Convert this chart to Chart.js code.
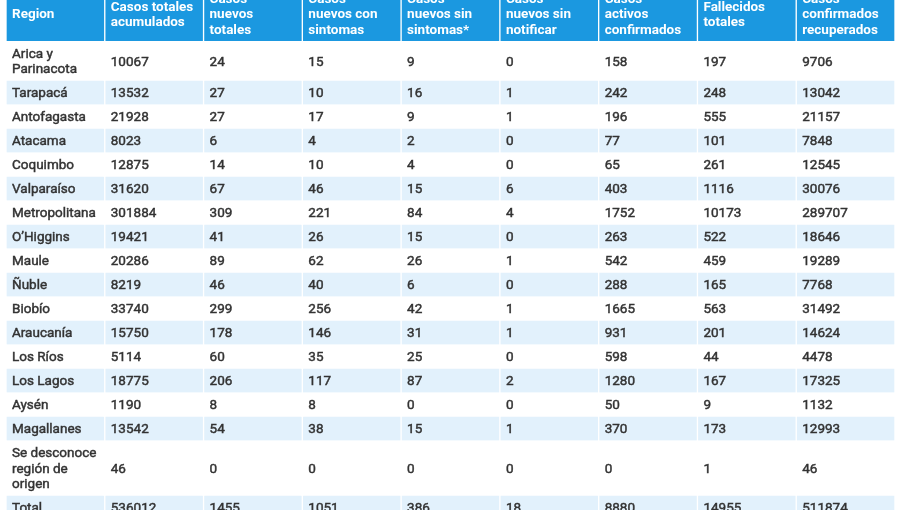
<!DOCTYPE html>
<html>
<head>
<meta charset="utf-8">
<script src="https://cdn.jsdelivr.net/npm/chart.js@4.4.1/dist/chart.umd.min.js"></script>
<style>
  html, body { margin: 0; padding: 0; background: #ffffff; }
  #wrap { width: 900px; height: 510px; }
</style>
</head>
<body>
<div id="wrap"><canvas id="tabla" width="900" height="510"></canvas></div>
<script>
// column headers (one entry per line of text)
const headers = [
    ['Region'],
    ['Casos totales', 'acumulados'],
    ['Casos', 'nuevos', 'totales'],
    ['Casos', 'nuevos con', 'sintomas'],
    ['Casos', 'nuevos sin', 'sintomas*'],
    ['Casos', 'nuevos sin', 'notificar'],
    ['Casos', 'activos', 'confirmados'],
    ['Fallecidos', 'totales'],
    ['Casos', 'confirmados', 'recuperados']
];

const regiones = [
    ['Arica y', 'Parinacota'], ['Tarapacá'], ['Antofagasta'], ['Atacama'], ['Coquimbo'],
    ['Valparaíso'], ['Metropolitana'], ['O’Higgins'], ['Maule'], ['Ñuble'], ['Biobío'],
    ['Araucanía'], ['Los Ríos'], ['Los Lagos'], ['Aysén'], ['Magallanes'],
    ['Se desconoce', 'región de', 'origen'], ['Total']
];

const casosTotales   = [10067, 13532, 21928, 8023, 12875, 31620, 301884, 19421, 20286, 8219, 33740, 15750, 5114, 18775, 1190, 13542, 46, 536012];
const nuevosTotales  = [24, 27, 27, 6, 14, 67, 309, 41, 89, 46, 299, 178, 60, 206, 8, 54, 0, 1455];
const nuevosCon      = [15, 10, 17, 4, 10, 46, 221, 26, 62, 40, 256, 146, 35, 117, 8, 38, 0, 1051];
const nuevosSin      = [9, 16, 9, 2, 4, 15, 84, 15, 26, 6, 42, 31, 25, 87, 0, 15, 0, 386];
const sinNotificar   = [0, 1, 1, 0, 0, 6, 4, 0, 1, 0, 1, 1, 0, 2, 0, 1, 0, 18];
const activos        = [158, 242, 196, 77, 65, 403, 1752, 263, 542, 288, 1665, 931, 598, 1280, 50, 370, 0, 8880];
const fallecidos     = [197, 248, 555, 101, 261, 1116, 10173, 522, 459, 165, 563, 201, 44, 167, 9, 173, 1, 14955];
const recuperados    = [9706, 13042, 21157, 7848, 12545, 30076, 289707, 18646, 19289, 7768, 31492, 14624, 4478, 17325, 1132, 12993, 46, 511874];

const columnas = [casosTotales, nuevosTotales, nuevosCon, nuevosSin, sinNotificar, activos, fallecidos, recuperados];

// row height grows with the number of text lines
function altoFila(lineas) {
    return 24 + 15.5 * (lineas - 1);
}

const filas = [];
filas.push({ textos: headers, alto: altoFila(3), fondo: '#1b98e0', borde: 'rgba(255,255,255,0.5)', color: '#ffffff', peso: 'bold', trazo: 0 });
regiones.forEach(function(reg, i) {
    const textos = [reg];
    columnas.forEach(function(col) { textos.push([String(col[i])]); });
    filas.push({
        textos: textos,
        alto: altoFila(reg.length),
        fondo: i % 2 === 0 ? '#ffffff' : '#e2f1fc',
        borde: '#ffffff',
        color: '#333333',
        peso: 'normal',
        trazo: 0.45
    });
});

const datasets = filas.map(function(f) {
    return {
        data: headers.map(function() { return f.alto; }),
        backgroundColor: f.fondo,
        borderColor: f.borde,
        borderWidth: { left: 1, right: 1, top: 0, bottom: 0 },
        borderSkipped: false,
        barPercentage: 1,
        categoryPercentage: 1
    };
});

// draws the cell text at each bar's position
const textoCeldas = {
    id: 'textoCeldas',
    afterDatasetsDraw: function(chart) {
        const ctx = chart.ctx;
        ctx.save();
        ctx.beginPath();
        ctx.rect(chart.chartArea.left, chart.chartArea.top, chart.chartArea.width, chart.chartArea.height);
        ctx.clip();
        ctx.textBaseline = 'middle';
        ctx.textAlign = 'left';
        filas.forEach(function(f, i) {
            const meta = chart.getDatasetMeta(i);
            ctx.fillStyle = f.color;
            ctx.strokeStyle = f.color;
            ctx.lineWidth = f.trazo;
            ctx.font = f.peso + ' 13.5px Roboto, "Noto Sans", sans-serif';
            meta.data.forEach(function(bar, j) {
                const lineas = f.textos[j];
                const x = bar.x - bar.width / 2 + 6;
                const centro = (bar.y + bar.base) / 2 + 1.5;
                const inicio = centro - (lineas.length - 1) * 15.5 / 2;
                lineas.forEach(function(t, k) {
                    ctx.fillText(t, x, inicio + k * 15.5);
                    if (f.trazo > 0) ctx.strokeText(t, x, inicio + k * 15.5);
                });
            });
        });
        ctx.restore();
    }
};

new Chart(document.getElementById('tabla'), {
    type: 'bar',
    data: {
        labels: headers.map(function(h) { return h.join(' '); }),
        datasets: datasets
    },
    options: {
        responsive: false,
        animation: false,
        layout: { padding: { left: 6, right: 5, top: 0, bottom: 0 } },
        plugins: {
            legend: { display: false },
            tooltip: { enabled: false }
        },
        scales: {
            x: { stacked: true, display: false },
            y: { stacked: true, display: false, reverse: true, min: 14, max: 524 }
        }
    },
    plugins: [textoCeldas]
});
</script>
</body>
</html>
